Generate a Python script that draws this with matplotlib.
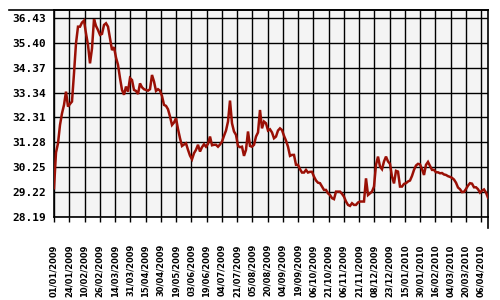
import matplotlib

matplotlib.use("Agg")
import matplotlib.pyplot as plt
import numpy as np
from matplotlib.lines import Line2D

# ---------------------------------------------------------------- data
date_labels = [
    "01/01/2009", "24/01/2009", "10/02/2009", "26/02/2009", "14/03/2009",
    "31/03/2009", "15/04/2009", "30/04/2009", "19/05/2009", "03/06/2009",
    "19/06/2009", "04/07/2009", "21/07/2009", "05/08/2009", "20/08/2009",
    "04/09/2009", "19/09/2009", "06/10/2009", "21/10/2009", "06/11/2009",
    "21/11/2009", "08/12/2009", "23/12/2009", "15/01/2010", "30/01/2010",
    "16/02/2010", "04/03/2010", "20/03/2010", "06/04/2010",
]
y_ticks = [28.19, 29.22, 30.25, 31.28, 32.31, 33.34, 34.37, 35.40, 36.43]

prices_q1 = [
    29.38, 30.86, 31.24, 32.00, 32.48, 32.83, 33.38, 32.76, 32.87, 32.97,
    34.14, 35.38, 36.07, 36.07, 36.24, 36.32, 35.79, 35.31, 34.55, 35.17,
    36.38, 36.10, 35.93, 35.73, 35.77, 36.14, 36.21, 36.07, 35.59, 35.10,
    35.22, 34.79, 34.49, 33.94, 33.45, 33.25, 33.59, 33.38, 33.94, 33.86,
    33.45, 33.41, 33.28, 33.72, 33.56, 33.48, 33.45, 33.42, 33.48, 34.07,
    33.80, 33.41, 33.48, 33.42, 33.20,
]
prices_q2 = [
    32.83, 32.79, 32.65, 32.35, 32.00, 32.10, 32.28, 31.83, 31.45, 31.13,
    31.19, 31.24, 30.97, 30.73, 30.58, 30.83, 30.97, 31.18, 30.90, 31.08,
    31.20, 31.10, 31.22, 31.52, 31.16, 31.18, 31.18, 31.10, 31.19, 31.31,
    31.55, 31.77, 32.14, 33.01, 32.07, 31.73, 31.59, 31.13, 31.08, 31.10,
    30.72, 30.97, 31.73, 31.13, 31.10, 31.18, 31.52, 31.69, 32.62, 31.86,
    32.14, 32.07, 31.77, 31.82, 31.69,
]
prices_q3 = [
    31.45, 31.52, 31.77, 31.86, 31.79, 31.55, 31.35, 31.10, 30.72, 30.76,
    30.76, 30.35, 30.35, 30.17, 30.03, 30.03, 30.14, 30.03, 30.06, 30.06,
    29.86, 29.70, 29.61, 29.59, 29.45, 29.31, 29.31, 29.17, 29.10, 28.97,
    28.93, 29.24, 29.24, 29.24, 29.15, 29.03, 28.83, 28.69, 28.65, 28.76,
    28.69, 28.69, 28.79, 28.83, 28.83, 28.83, 29.79, 29.10, 29.17, 29.24,
    29.45, 30.35, 30.69, 30.28,
]
prices_q4 = [
    30.17, 30.49, 30.69, 30.49, 30.39, 29.86, 29.58, 30.10, 30.07, 29.45,
    29.45, 29.56, 29.59, 29.66, 29.70, 29.89, 30.14, 30.32, 30.39, 30.37,
    30.17, 29.93, 30.35, 30.47, 30.31, 30.14, 30.14, 30.04, 30.04, 30.00,
    30.01, 29.95, 29.93, 29.88, 29.85, 29.81, 29.74, 29.61, 29.41, 29.34,
    29.22, 29.23, 29.35, 29.49, 29.59, 29.57, 29.42, 29.42, 29.34, 29.20,
    29.28, 29.33, 29.20, 28.99,
]
prices = np.array(prices_q1 + prices_q2 + prices_q3 + prices_q4)

# ---------------------------------------------------------------- plot
fig = plt.figure(figsize=(5, 3), dpi=100)
ax = fig.add_axes([0.108, 0.2767, 0.868, 0.69])
ax.set_facecolor("#f4f4f4")

n = len(prices)
x = np.arange(n)
ax.plot(x, prices, color="#9a1006", lw=1.8, zorder=3, solid_joinstyle="miter")

label_step = 7.625
tick_pos = np.arange(len(date_labels)) * label_step
ax.set_xlim(0, n - 1)
ax.set_ylim(28.19, 36.76)
ax.set_xticks(tick_pos)
ax.set_xticklabels(date_labels, rotation=90, fontsize=6, fontweight="bold",
                   family="DejaVu Sans")
ax.set_yticks(y_ticks)
ax.set_yticklabels([f"{v:.2f}" for v in y_ticks], fontsize=8, fontweight="bold",
                   family="DejaVu Sans Mono")
ax.tick_params(axis="x", length=3.6, width=1, pad=16, color="black")
ax.tick_params(axis="y", length=0, pad=6)
ax.grid(True, color="black", lw=1.0, zorder=1)
ax.set_axisbelow(True)
for s in ax.spines.values():
    s.set_color("black")
    s.set_linewidth(1.2)

# long top rule and extended right edge
fig.add_artist(Line2D([9 / 500, 488 / 500], [1 - 10 / 300, 1 - 10 / 300],
                      color="black", lw=1.2, transform=fig.transFigure))
fig.add_artist(Line2D([488 / 500, 488 / 500], [1 - 217 / 300, 1 - 228 / 300],
                      color="black", lw=1.2, transform=fig.transFigure))

fig.savefig("out.png", dpi=100)
